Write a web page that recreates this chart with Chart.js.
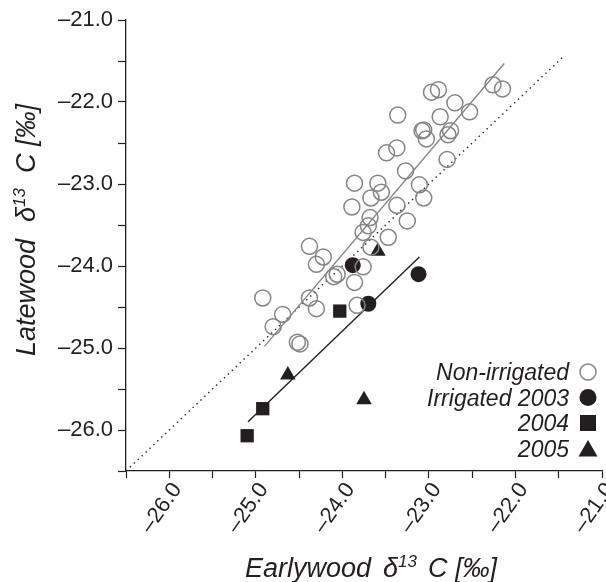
<!DOCTYPE html>
<html>
<head>
<meta charset="utf-8">
<script src="https://cdn.jsdelivr.net/npm/chart.js@4.4.1/dist/chart.umd.min.js"></script>
<style>
  html, body { margin: 0; padding: 0; background: #fff; }
</style>
</head>
<body>
<canvas id="chart" width="606" height="582"></canvas>
<script>
// delta 13C values, per mil
var nonIrrigatedX = [-22.26, -22.15, -22.97, -22.89, -22.70, -22.53, -22.87, -23.36, -23.08, -23.03,
  -22.78, -22.75, -23.49, -23.37, -22.79, -23.27, -23.86, -23.59, -23.55, -23.11,
  -23.06, -23.67, -23.89, -23.37, -23.68, -23.25, -23.76, -23.70, -23.47, -23.67,
  -24.38, -24.22, -24.30, -24.06, -23.76, -23.86, -24.10, -24.38, -24.92, -24.30,
  -24.69, -24.80, -24.52, -24.49, -23.83, -23.06];
var nonIrrigatedY = [-21.79, -21.84, -21.88, -21.85, -22.01, -22.12, -22.18, -22.16, -22.35, -22.45,
  -22.40, -22.35, -22.62, -22.56, -22.70, -22.84, -22.99, -22.99, -23.10, -23.01,
  -23.17, -23.17, -23.28, -23.26, -23.41, -23.45, -23.59, -23.51, -23.65, -23.77,
  -23.76, -23.89, -23.98, -24.10, -24.01, -24.20, -24.13, -24.39, -24.39, -24.52,
  -24.59, -24.74, -24.93, -24.95, -24.48, -22.34];

var irrigated2003X = [-23.88, -23.12, -23.70];
var irrigated2003Y = [-23.99, -24.10, -24.46];
var irrigated2004X = [-24.03, -24.92, -25.10];
var irrigated2004Y = [-24.55, -25.74, -26.07];
var irrigated2005X = [-23.59, -24.63, -23.75];
var irrigated2005Y = [-23.82, -25.33, -25.63];

// regression lines (end points) and the 1:1 line
var fitNonIrrigatedX = [-24.90, -22.13];
var fitNonIrrigatedY = [-24.98, -21.53];
var fitIrrigatedX = [-25.09, -23.11];
var fitIrrigatedY = [-25.90, -23.89];
var oneToOne = [-26.5, -21.45];

var axisMin = -26.5;
var axisMax = -21.0;
var tickStep = 0.5;

var legendLabels = ['Non-irrigated', 'Irrigated 2003', '2004', '2005'];

var ink = '#231f20';
var grey = '#858585';
var family = '"Liberation Sans", Arial, Helvetica, sans-serif';

function pairs(xs, ys) {
  return xs.map(function (x, i) { return { x: x, y: ys[i] }; });
}

function tickLabel(value) {
  if (Math.abs(value - Math.round(value)) > 1e-6) return '';
  return '\u2013' + Math.abs(value).toFixed(1);
}

// legend in the lower right corner, markers right of the text
function drawMarker(ctx, kind, x, y) {
  ctx.beginPath();
  if (kind === 'open') {
    ctx.arc(x, y, 8, 0, Math.PI * 2);
    ctx.lineWidth = 1.5;
    ctx.strokeStyle = grey;
    ctx.stroke();
  } else if (kind === 'dot') {
    ctx.arc(x, y, 8.5, 0, Math.PI * 2);
    ctx.fill();
  } else if (kind === 'square') {
    ctx.fillRect(x - 8, y - 8, 16, 16);
  } else {
    ctx.moveTo(x, y - 8.5);
    ctx.lineTo(x + 9.5, y + 8);
    ctx.lineTo(x - 9.5, y + 8);
    ctx.closePath();
    ctx.fill();
  }
}

var markerKinds = ['open', 'dot', 'square', 'triangle'];

// axis title with superscript 13
function titleParts(word, gap1, gap2) {
  return [
    { t: word, gap: gap1 },
    { t: '\u03b4', gap: 0 },
    { t: '13', sup: true, gap: gap2 },
    { t: 'C [\u2030]', gap: 0 }
  ];
}

function drawTitle(ctx, parts, cx, baseline) {
  var big = 'italic 27px ' + family;
  var small = 'italic 17px ' + family;
  var total = 0;
  parts.forEach(function (p) {
    ctx.font = p.sup ? small : big;
    p.w = ctx.measureText(p.t).width;
    total += p.w + p.gap;
  });
  var x = cx - total / 2;
  parts.forEach(function (p) {
    ctx.font = p.sup ? small : big;
    ctx.fillText(p.t, x, p.sup ? baseline - 10 : baseline);
    x += p.w + p.gap;
  });
}

var decorations = {
  id: 'decorations',
  afterDraw: function (chart) {
    var ctx = chart.ctx;
    ctx.save();
    ctx.fillStyle = ink;
    ctx.textAlign = 'left';
    ctx.textBaseline = 'alphabetic';
    drawTitle(ctx, titleParts('Earlywood', 12, 11), 371, 577);

    ctx.save();
    ctx.translate(35, 230);
    ctx.rotate(-Math.PI / 2);
    drawTitle(ctx, titleParts('Latewood', 17, 15), 0, 0);
    ctx.restore();

    ctx.font = 'italic 23px ' + family;
    ctx.textAlign = 'right';
    legendLabels.forEach(function (label, i) {
      var base = 380 + i * 25.5;
      ctx.fillStyle = ink;
      ctx.fillText(label, 569, base);
      drawMarker(ctx, markerKinds[i], 588, base - 8);
    });
    ctx.restore();
  }
};

function axis(extra) {
  var s = {
    type: 'linear',
    min: axisMin,
    max: axisMax,
    ticks: {
      stepSize: tickStep,
      autoSkip: false,
      color: ink,
      font: { family: family, size: 22 },
      callback: tickLabel
    },
    grid: {
      display: true,
      drawOnChartArea: false,
      drawTicks: true,
      tickColor: ink,
      tickWidth: 1.2
    },
    border: { display: true, color: ink, width: 1.3 }
  };
  Object.keys(extra).forEach(function (k) {
    if (typeof extra[k] === 'object' && s[k]) Object.assign(s[k], extra[k]);
    else s[k] = extra[k];
  });
  return s;
}

new Chart(document.getElementById('chart'), {
  type: 'scatter',
  data: {
    datasets: [
      {
        label: legendLabels[0],
        data: pairs(nonIrrigatedX, nonIrrigatedY),
        pointStyle: 'circle',
        pointRadius: 8,
        borderWidth: 1.5,
        borderColor: grey,
        backgroundColor: 'rgba(0,0,0,0)',
        order: 0
      },
      {
        label: legendLabels[1],
        data: pairs(irrigated2003X, irrigated2003Y),
        pointStyle: 'circle',
        pointRadius: 8,
        borderWidth: 0,
        backgroundColor: ink,
        order: 0
      },
      {
        label: legendLabels[2],
        data: pairs(irrigated2004X, irrigated2004Y),
        pointStyle: 'rect',
        pointRadius: 9.4,
        borderWidth: 0,
        backgroundColor: ink,
        order: 0
      },
      {
        label: legendLabels[3],
        data: pairs(irrigated2005X, irrigated2005Y),
        pointStyle: 'triangle',
        pointRadius: 9,
        borderWidth: 0,
        backgroundColor: ink,
        order: 0
      },
      {
        data: pairs(fitNonIrrigatedX, fitNonIrrigatedY),
        showLine: true,
        pointRadius: 0,
        borderColor: grey,
        borderWidth: 1.4,
        order: 1
      },
      {
        data: pairs(fitIrrigatedX, fitIrrigatedY),
        showLine: true,
        pointRadius: 0,
        borderColor: ink,
        borderWidth: 1.4,
        order: 1
      },
      {
        data: pairs(oneToOne, oneToOne),
        showLine: true,
        pointRadius: 0,
        borderColor: ink,
        borderWidth: 1.4,
        borderDash: [1.4, 4],
        borderCapStyle: 'butt',
        order: 2
      }
    ]
  },
  options: {
    responsive: false,
    animation: false,
    devicePixelRatio: 1,
    layout: { autoPadding: false, padding: { left: 0, top: 20, right: 4, bottom: 0 } },
    plugins: { legend: { display: false }, tooltip: { enabled: false } },
    scales: {
      x: axis({
        ticks: { minRotation: 55, maxRotation: 55, padding: 0, labelOffset: 8 },
        grid: { tickLength: 7 },
        afterFit: function (s) {
          s.height = 111;
          s.paddingLeft = 0;
          s.paddingRight = 0;
        }
      }),
      y: axis({
        ticks: { padding: 5 },
        grid: { tickLength: 8 },
        afterFit: function (s) {
          s.width = 126;
          s.paddingTop = 0;
          s.paddingBottom = 0;
        }
      })
    }
  },
  plugins: [decorations]
});
</script>
</body>
</html>
